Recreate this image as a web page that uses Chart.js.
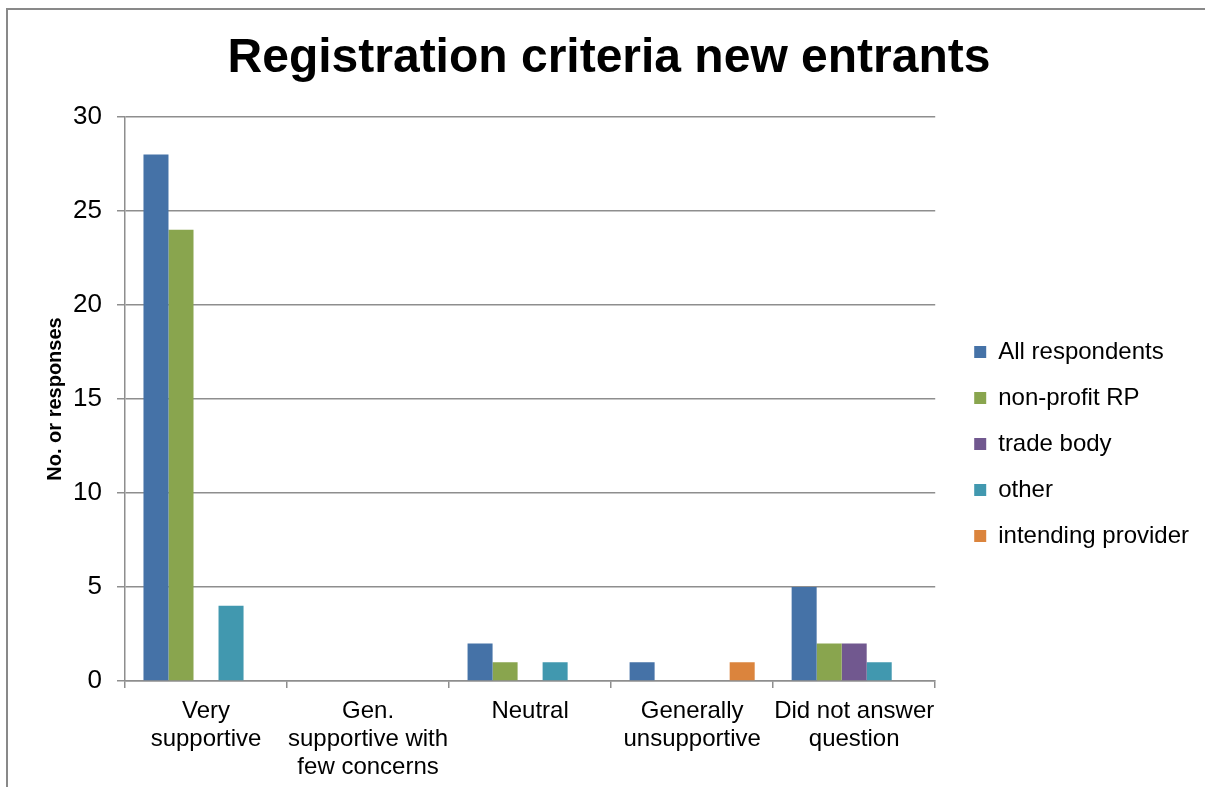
<!DOCTYPE html>
<html><head><meta charset="utf-8">
<script src="https://cdn.jsdelivr.net/npm/chart.js@4/dist/chart.umd.min.js"></script>
<style>html,body{margin:0;padding:0;background:#fff;overflow:hidden}#wrap{width:1205px;height:787px;position:relative}</style>
</head><body><div id="wrap"><canvas id="c" width="1205" height="787"></canvas></div>
<script>
const chartTitle = "Registration criteria new entrants";
const yAxisTitle = "No. or responses";
const categories = [["Very","supportive"],["Gen.","supportive with","few concerns"],["Neutral"],["Generally","unsupportive"],["Did not answer","question"]];
const seriesNames = ["All respondents","non-profit RP","trade body","other","intending provider"];
const allRespondents = [28,0,2,1,5];
const nonProfitRP = [24,0,1,0,2];
const tradeBody = [0,0,0,0,2];
const otherResp = [4,0,1,0,1];
const intendingProvider = [0,0,0,1,0];
const yTicks = [0,5,10,15,20,25,30];
const seriesColors = ["#4572A7","#89A54E","#71588F","#4198AF","#DB843D"];

const FONT = "'Liberation Sans', Arial, sans-serif";
const GRID = "#8e8e8e";
Chart.defaults.color = "#000";
Chart.defaults.font.family = FONT;

const seriesValues = [allRespondents, nonProfitRP, tradeBody, otherResp, intendingProvider];
const datasets = seriesNames.map((n,i)=>({
  label:n, data:seriesValues[i], backgroundColor:seriesColors[i], borderWidth:0,
  categoryPercentage:0.772, barPercentage:1.0, yAxisID:'y'
}));

const frame = {id:'frame', beforeDraw(chart){
  const ctx=chart.ctx; ctx.save();
  ctx.fillStyle='#fff'; ctx.fillRect(0,0,chart.width,chart.height);
  ctx.strokeStyle='#898989'; ctx.lineWidth=2;
  ctx.beginPath(); ctx.moveTo(7,787); ctx.lineTo(7,9); ctx.lineTo(1205,9); ctx.stroke();
  ctx.restore();
}};

new Chart(document.getElementById('c'), {
  type:'bar',
  data:{labels:categories, datasets},
  plugins:[frame],
  options:{
    responsive:false, animation:false, devicePixelRatio:1,
    layout:{padding:{left:19,right:6,top:0,bottom:0}},
    plugins:{
      title:{display:true, text:chartTitle, font:{size:48, weight:'bold', family:FONT, lineHeight:1.2}, color:'#000', padding:{top:30,bottom:29.4}},
      legend:{position:'right', align:'center', maxWidth:260,
        title:{display:true, text:'', font:{size:12}, padding:{top:86.6,bottom:0}},
        labels:{boxWidth:12, boxHeight:12, padding:22, font:{size:24, family:FONT}, color:'#000'}},
      tooltip:{enabled:false}
    },
    scales:{
      x:{
        grid:{display:true, drawOnChartArea:false, drawTicks:true, tickLength:7, color:GRID, lineWidth:1.5, offset:true},
        border:{display:true, color:GRID, width:1.5},
        ticks:{maxRotation:0, minRotation:0, autoSkip:false, padding:10, font:{size:24, family:FONT, lineHeight:1.15}, color:'#000'},
        afterFit(s){ s.height = 106; }
      },
      y:{
        position:'left', min:yTicks[0], max:yTicks[yTicks.length-1],
        ticks:{stepSize:yTicks[1]-yTicks[0], padding:15, font:{size:26, family:FONT}, color:'#000'},
        grid:{color:GRID, lineWidth:1.5, tickLength:8},
        border:{display:true, color:GRID, width:1.5},
        title:{display:true, text:yAxisTitle, font:{size:20, weight:'bold', family:FONT}, color:'#000', padding:{top:24,bottom:0}},
        afterFit(s){ s.width = 106; }
      },
      y2:{
        position:'right', display:true, min:0, max:30,
        grid:{display:false}, border:{display:false}, ticks:{display:false},
        afterFit(s){ s.width = 17; }
      }
    }
  }
});
</script></body></html>
